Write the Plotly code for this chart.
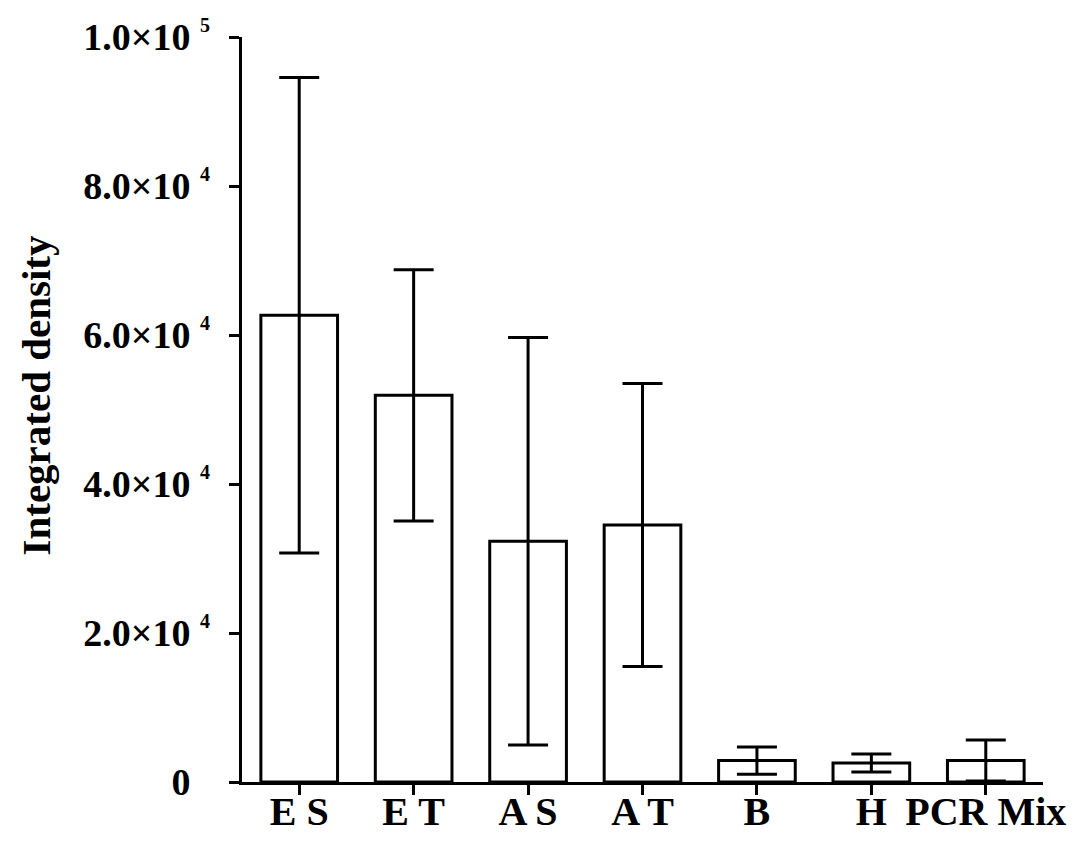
import plotly.graph_objects as go

categories = ["E S", "E T", "A S", "A T", "B", "H", "PCR Mix"]
means = [62650, 51900, 32300, 34500, 2880, 2550, 2880]
errors = [31900, 16850, 27350, 19000, 1830, 1200, 2750]

ytick_vals = [0, 20000, 40000, 60000, 80000, 100000]
mantissas = ["0", "2.0×10", "4.0×10", "6.0×10", "8.0×10", "1.0×10"]
exponents = ["", "4", "4", "4", "4", "5"]

FONT = "Liberation Serif"

fig = go.Figure()
fig.add_trace(go.Bar(
    x=list(range(len(categories))),
    y=means,
    width=0.67,
    marker=dict(color="white", line=dict(color="black", width=3)),
    error_y=dict(type="data", array=errors, visible=True, color="black",
                 thickness=3, width=20),
    showlegend=False,
))

fig.update_layout(
    width=1087, height=843,
    margin=dict(l=242, r=44, t=37, b=61, autoexpand=False),
    plot_bgcolor="white", paper_bgcolor="white",
    font=dict(family=FONT, color="black", size=38, weight="bold"),
)
fig.update_xaxes(
    range=[-0.5, 6.5],
    tickvals=list(range(len(categories))),
    ticktext=categories,
    showline=True, linecolor="black", linewidth=3,
    ticks="outside", ticklen=10, tickwidth=3, tickcolor="black",
    showgrid=False, zeroline=False, automargin=False,
    tickfont=dict(family=FONT, size=40, color="black", weight="bold"),
    ticklabelstandoff=-18,
)
fig.update_yaxes(
    range=[0, 100000],
    tickvals=ytick_vals,
    ticktext=mantissas,
    showline=True, linecolor="black", linewidth=3,
    ticks="outside", ticklen=10, tickwidth=3, tickcolor="black",
    showgrid=False, zeroline=False, automargin=False,
    tickfont=dict(family=FONT, size=38, color="black", weight="bold"),
    ticklabelstandoff=31,
)

# exponent superscripts of the y tick labels
for v, e in zip(ytick_vals, exponents):
    if e:
        fig.add_annotation(
            text=e, xref="paper", yref="y", x=-0.0462, y=v,
            xanchor="center", yanchor="middle", yshift=12, showarrow=False,
            font=dict(family=FONT, size=20, color="black", weight="bold"),
        )

# y-axis title
fig.add_annotation(
    text="Integrated density", xref="paper", yref="paper",
    x=-0.257, y=0.519, xanchor="center", yanchor="middle",
    textangle=-90, showarrow=False,
    font=dict(family=FONT, size=41, color="black", weight="bold"),
)

fig.write_html(
    "out.html",
    config={"displayModeBar": False},
    post_script="document.body.style.margin='0';document.body.style.overflow='hidden';",
)
